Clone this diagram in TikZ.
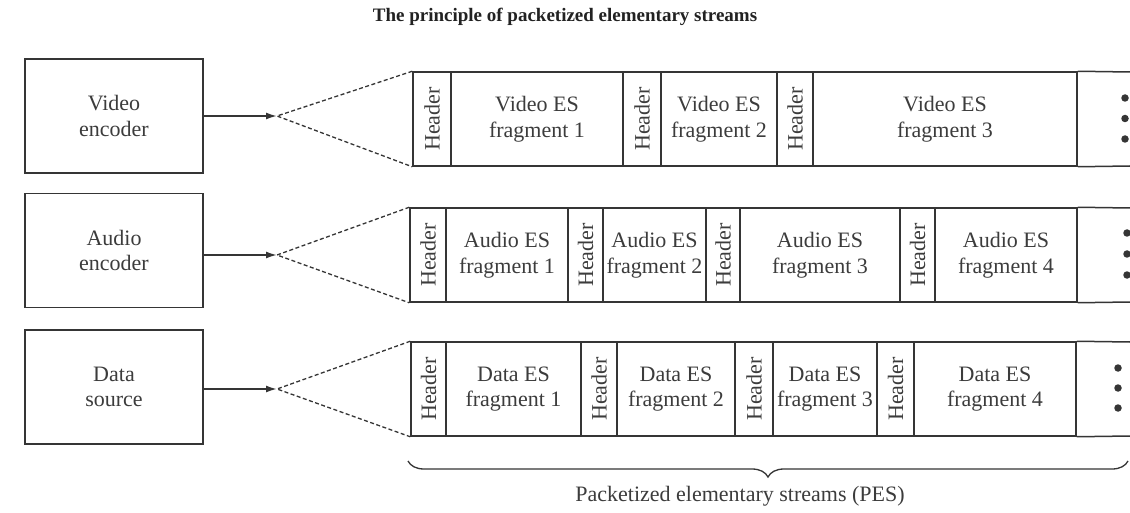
\documentclass[tikz,border=0pt]{standalone}
\usepackage{fontspec}
\setmainfont{Liberation Serif}
\usetikzlibrary{arrows.meta,decorations.pathreplacing}
\definecolor{ink}{HTML}{353535}
\definecolor{txt}{HTML}{3C3C3C}
\definecolor{ttl}{HTML}{222222}
\newcommand\bodyfont{\fontsize{22}{25.5}\selectfont}
\newcommand\titlefont{\fontsize{19}{22}\selectfont\bfseries}
\begin{document}
\begin{tikzpicture}[x=1pt,y=-1pt,
  enc/.style={draw=ink, line width=1.6pt, minimum width=178pt, minimum height=114pt, align=center, font=\bodyfont, text=txt, inner sep=0pt},
  fcell/.style={draw=ink, line width=1.5pt, minimum height=94pt, inner sep=0pt, align=center, font=\bodyfont, text=txt},
  hcell/.style={draw=ink, line width=1.5pt, rotate=90, minimum width=94pt, inner sep=0pt, font=\bodyfont, text=txt},
  feed/.style={draw=ink, line width=1.7pt, -{Latex[length=11pt,width=7pt]}},
  split/.style={draw=ink, line width=1.3pt, dash pattern=on 4pt off 2.5pt},
  rowline/.style={draw=ink, line width=1.5pt},
  dotc/.style={circle, fill=ink, inner sep=0pt, minimum size=7.5pt},
  bracestyle/.style={draw=ink, line width=1.3pt, decorate, decoration={brace, mirror, amplitude=16pt}}
]
\fill[white] (0,0) rectangle (1130,513);
\useasboundingbox (0,0) rectangle (1130,513);

% title
\node[font=\titlefont, text=ttl] (title) at (565,17) {The principle of packetized elementary streams};

% sources
\node[enc] (venc) at (114,116) {Video\\encoder};
\node[enc] (aenc) at (114,250.5) {Audio\\encoder};
\node[enc] (denc) at (114,387) {Data\\source};

% split points
\coordinate (vsplit) at (277,116);
\coordinate (asplit) at (277,255);
\coordinate (dsplit) at (277,389);

% video row (72..166)
\node[hcell, minimum height=38pt] (vh1) at (432,119) {Header};
\node[fcell, minimum width=172pt] (vf1) at (537,119) {Video ES\\fragment 1};
\node[hcell, minimum height=38pt] (vh2) at (642,119) {Header};
\node[fcell, minimum width=116pt] (vf2) at (719,119) {Video ES\\fragment 2};
\node[hcell, minimum height=36pt] (vh3) at (795,119) {Header};
\node[fcell, minimum width=264pt] (vf3) at (945,119) {Video ES\\fragment 3};
\coordinate (vtr) at (1130,72);
\coordinate (vbr) at (1130,166);
\draw[rowline] (vf3.north east) -- (vtr);
\draw[rowline] (vf3.south east) -- (vbr);
\node[dotc] (vd1) at (1125,98) {};
\node[dotc] (vd2) at (1125,118.5) {};
\node[dotc] (vd3) at (1125,139) {};

% audio row (208..302)
\node[hcell, minimum height=36pt] (ah1) at (428,255) {Header};
\node[fcell, minimum width=122pt] (af1) at (507,255) {Audio ES\\fragment 1};
\node[hcell, minimum height=35pt] (ah2) at (585.5,255) {Header};
\node[fcell, minimum width=103pt] (af2) at (654.5,255) {Audio ES\\fragment 2};
\node[hcell, minimum height=34pt] (ah3) at (723,255) {Header};
\node[fcell, minimum width=160pt] (af3) at (820,255) {Audio ES\\fragment 3};
\node[hcell, minimum height=35pt] (ah4) at (917.5,255) {Header};
\node[fcell, minimum width=142pt] (af4) at (1006,255) {Audio ES\\fragment 4};
\coordinate (atr) at (1130,208);
\coordinate (abr) at (1130,302);
\draw[rowline] (af4.north east) -- (atr);
\draw[rowline] (af4.south east) -- (abr);
\node[dotc] (ad1) at (1127,233) {};
\node[dotc] (ad2) at (1127,254) {};
\node[dotc] (ad3) at (1127,275) {};

% data row (342..436)
\node[hcell, minimum height=35pt] (dh1) at (428.5,389) {Header};
\node[fcell, minimum width=135pt] (df1) at (513.5,389) {Data ES\\fragment 1};
\node[hcell, minimum height=36pt] (dh2) at (599,389) {Header};
\node[fcell, minimum width=118pt] (df2) at (676,389) {Data ES\\fragment 2};
\node[hcell, minimum height=38pt] (dh3) at (754,389) {Header};
\node[fcell, minimum width=104pt] (df3) at (825,389) {Data ES\\fragment 3};
\node[hcell, minimum height=37pt] (dh4) at (895.5,389) {Header};
\node[fcell, minimum width=162pt] (df4) at (995,389) {Data ES\\fragment 4};
\coordinate (dtr) at (1130,342);
\coordinate (dbr) at (1130,436);
\draw[rowline] (df4.north east) -- (dtr);
\draw[rowline] (df4.south east) -- (dbr);
\node[dotc] (dd1) at (1118,368) {};
\node[dotc] (dd2) at (1118,388) {};
\node[dotc] (dd3) at (1118,408) {};

% feeds
\draw[feed] (venc.east |- vsplit) -- (vsplit);
\draw[feed] (aenc.east |- asplit) -- (asplit);
\draw[feed] (denc.east |- dsplit) -- (dsplit);

% dashed fans
\draw[split] (vh1.north east) -- (vsplit) -- (vh1.north west);
\draw[split] (ah1.north east) -- (asplit) -- (ah1.north west);
\draw[split] (dh1.north east) -- (dsplit) -- (dh1.north west);

% brace
\coordinate (bl) at (408,461);
\coordinate (br) at (1128,461);
\draw[bracestyle] (bl) -- (br);
\node[font=\bodyfont, text=txt] (pes) at (740,496) {Packetized elementary streams (PES)};
\end{tikzpicture}
\end{document}
